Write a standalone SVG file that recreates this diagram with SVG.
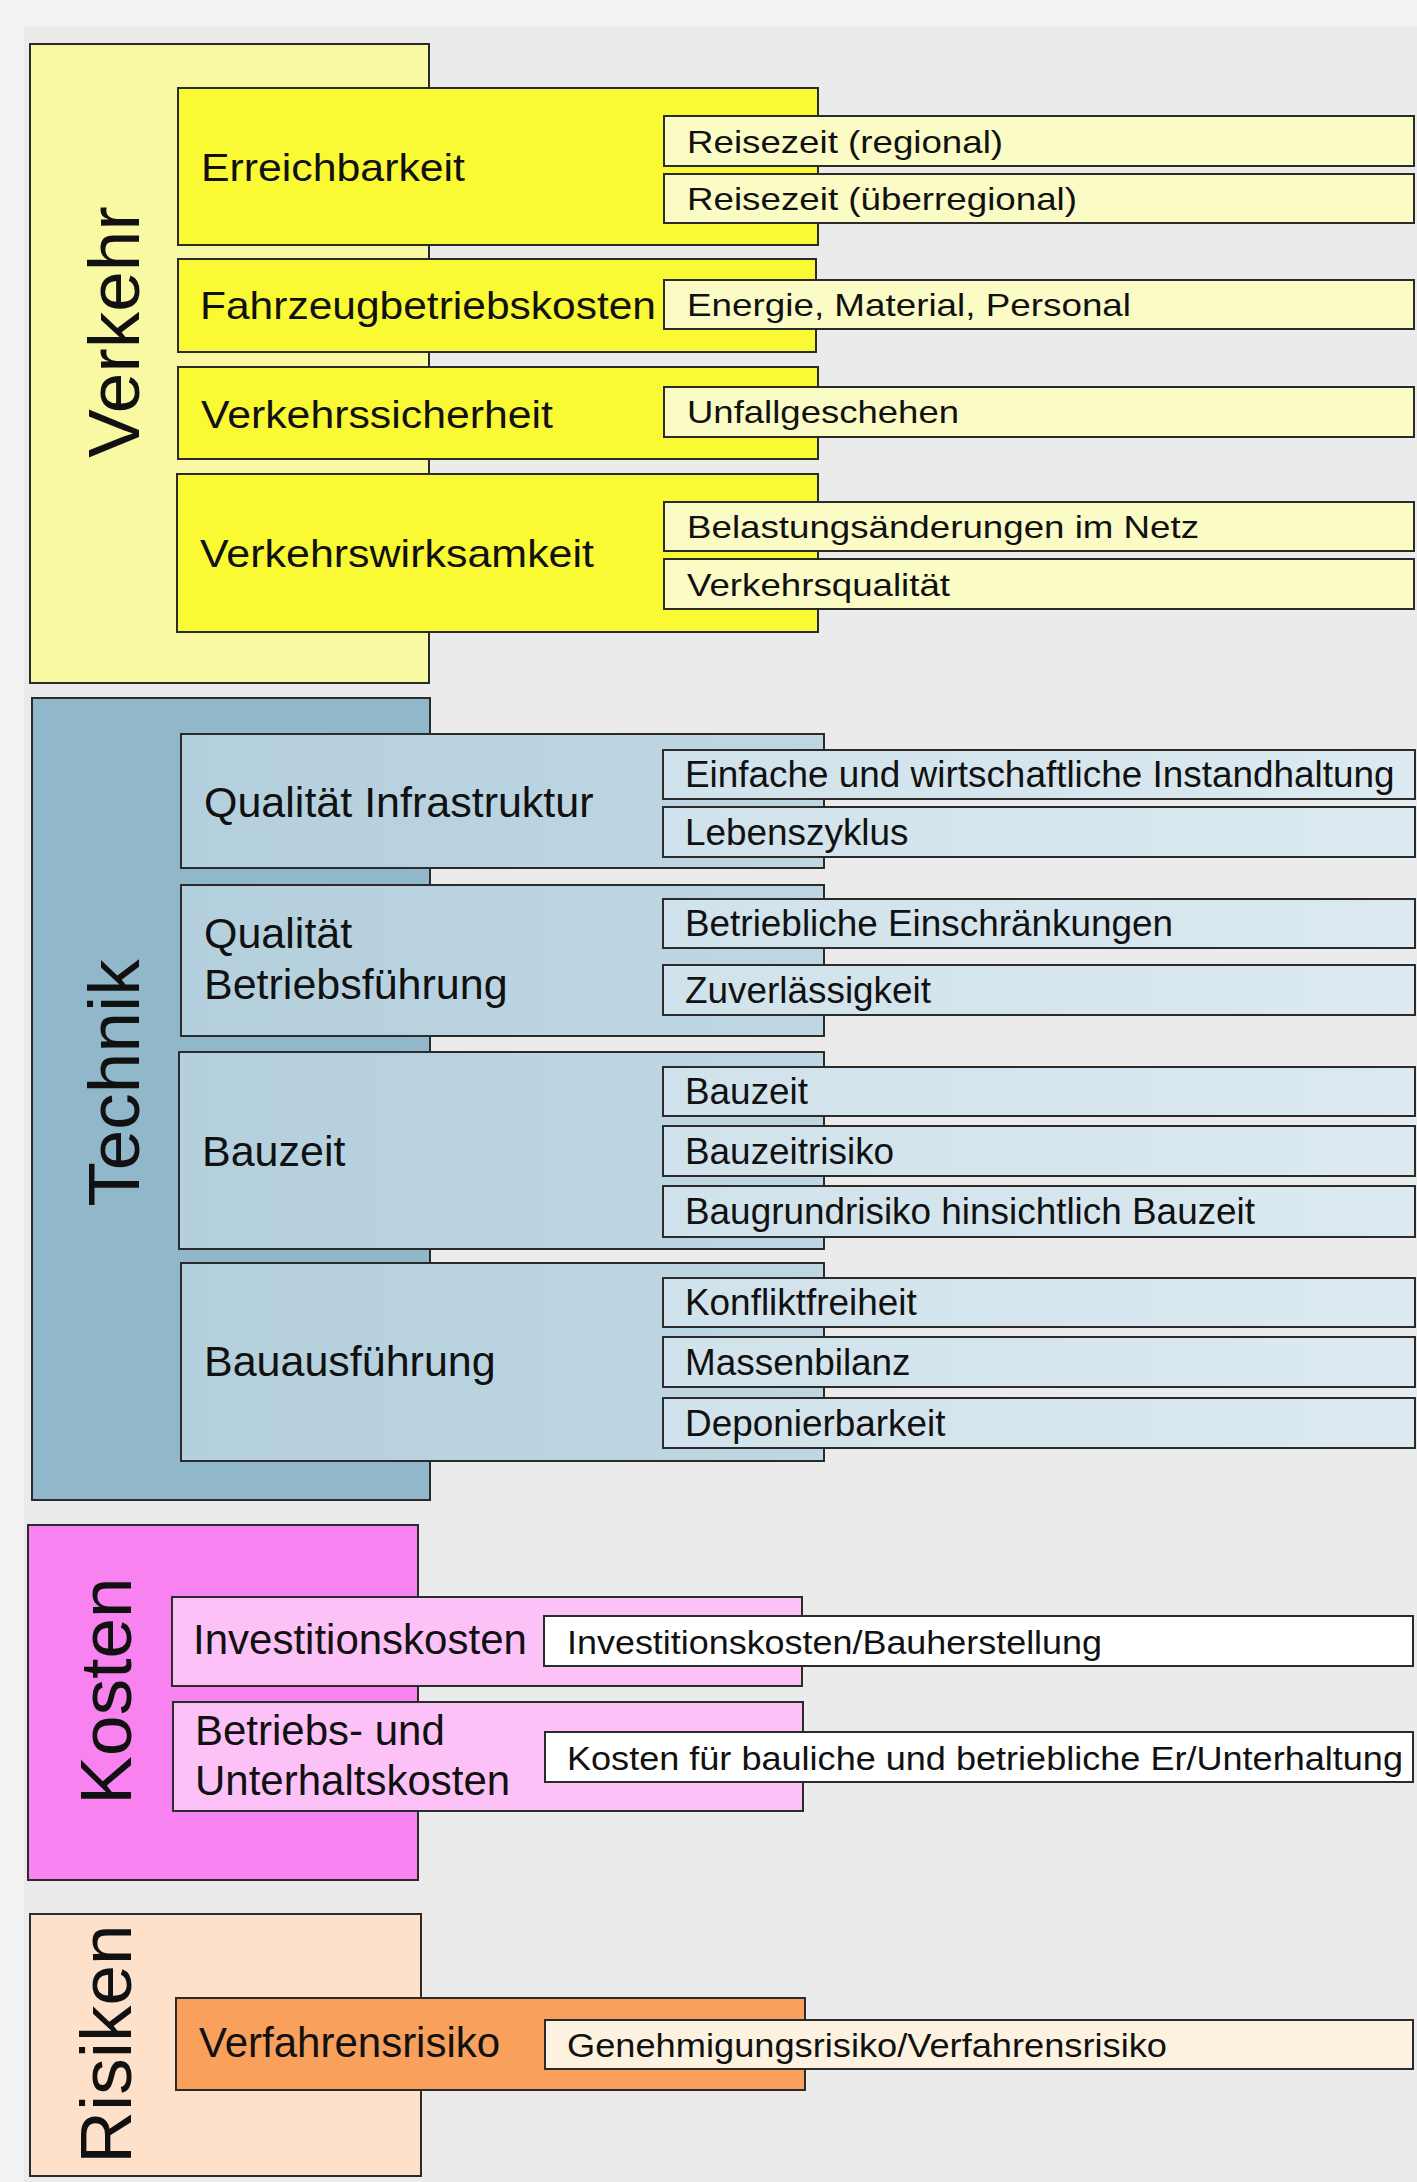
<svg xmlns="http://www.w3.org/2000/svg" width="1417" height="2182" viewBox="0 0 1417 2182">
  <style>
    text { font-family: "Liberation Sans", Arial, sans-serif; fill: #111; }
    .box { stroke: #2b2b2b; stroke-width: 2; }
    .title { font-size: 73px; }
    .l2v { font-size: 39px; }
    .l2 { font-size: 43px; }
    .l2k { font-size: 42px; }
    .subv { font-size: 32px; }
    .sub { font-size: 36.9px; }
    .subk { font-size: 34px; }
    .v0 { fill: #f9f9a3; } .v1 { fill: #f9f934; } .v2 { fill: #fbfbc6; }
    .t0 { fill: #91b7cb; } .t1 { fill: url(#tech-mid); } .t2 { fill: url(#tech-leaf); }
    .k0 { fill: #f883f0; } .k1 { fill: #fcc2f8; } .k2 { fill: #ffffff; }
    .r0 { fill: #fde1cb; } .r1 { fill: #f8a05c; } .r2 { fill: #fdf2df; }
  </style>
  <defs>
    <linearGradient id="tech-mid" x1="0" y1="0" x2="1" y2="0">
      <stop offset="0" stop-color="#b4cfdd"/>
      <stop offset="1" stop-color="#bfd7e3"/>
    </linearGradient>
    <linearGradient id="tech-leaf" x1="0" y1="0" x2="1" y2="0">
      <stop offset="0" stop-color="#d0e2eb"/>
      <stop offset="1" stop-color="#dce9f0"/>
    </linearGradient>
  </defs>

  <!-- page background -->
  <rect x="0" y="0" width="1417" height="2182" fill="#f3f3f3"/>
  <rect x="24" y="26" width="1393" height="2156" fill="#ebebeb"/>

  <!-- ===== Verkehr ===== -->
  <g id="verkehr">
    <rect class="box v0" x="30" y="44" width="399" height="639"/>
    <text class="title" transform="translate(139,332) rotate(-90)" text-anchor="middle">Verkehr</text>
  </g>
  <g id="erreichbarkeit">
    <rect class="box v1" x="178" y="88" width="640" height="157"/>
    <text class="l2v" x="201" y="181" textLength="264" lengthAdjust="spacingAndGlyphs">Erreichbarkeit</text>
  </g>
  <g id="reisezeit-regional">
    <rect class="box v2" x="664" y="116" width="750" height="50"/>
    <text class="subv" x="687" y="153" textLength="316" lengthAdjust="spacingAndGlyphs">Reisezeit (regional)</text>
  </g>
  <g id="reisezeit-ueberregional">
    <rect class="box v2" x="664" y="174" width="750" height="49"/>
    <text class="subv" x="687" y="210" textLength="390" lengthAdjust="spacingAndGlyphs">Reisezeit (überregional)</text>
  </g>
  <g id="fahrzeugbetriebskosten">
    <rect class="box v1" x="178" y="259" width="638" height="93"/>
    <text class="l2v" x="200" y="319" textLength="456" lengthAdjust="spacingAndGlyphs">Fahrzeugbetriebskosten</text>
  </g>
  <g id="energie-material-personal">
    <rect class="box v2" x="664" y="280" width="750" height="49"/>
    <text class="subv" x="687" y="316" textLength="444" lengthAdjust="spacingAndGlyphs">Energie, Material, Personal</text>
  </g>
  <g id="verkehrssicherheit">
    <rect class="box v1" x="178" y="367" width="640" height="92"/>
    <text class="l2v" x="201" y="428" textLength="352" lengthAdjust="spacingAndGlyphs">Verkehrssicherheit</text>
  </g>
  <g id="unfallgeschehen">
    <rect class="box v2" x="664" y="387" width="750" height="50"/>
    <text class="subv" x="687" y="423" textLength="272" lengthAdjust="spacingAndGlyphs">Unfallgeschehen</text>
  </g>
  <g id="verkehrswirksamkeit">
    <rect class="box v1" x="177" y="474" width="641" height="158"/>
    <text class="l2v" x="200" y="567" textLength="394" lengthAdjust="spacingAndGlyphs">Verkehrswirksamkeit</text>
  </g>
  <g id="belastungsaenderungen">
    <rect class="box v2" x="664" y="502" width="750" height="49"/>
    <text class="subv" x="687" y="538" textLength="512" lengthAdjust="spacingAndGlyphs">Belastungsänderungen im Netz</text>
  </g>
  <g id="verkehrsqualitaet">
    <rect class="box v2" x="664" y="559" width="750" height="50"/>
    <text class="subv" x="687" y="596" textLength="263" lengthAdjust="spacingAndGlyphs">Verkehrsqualität</text>
  </g>

  <!-- ===== Technik ===== -->
  <g id="technik">
    <rect class="box t0" x="32" y="698" width="398" height="802"/>
    <text class="title" transform="translate(139,1083) rotate(-90)" text-anchor="middle" font-size="74">Technik</text>
  </g>
  <g id="qualitaet-infrastruktur">
    <rect class="box t1" x="181" y="734" width="643" height="134"/>
    <text class="l2" x="204" y="817">Qualität Infrastruktur</text>
  </g>
  <g id="instandhaltung">
    <rect class="box t2" x="663" y="750" width="752" height="49"/>
    <text class="sub" x="685" y="787">Einfache und wirtschaftliche Instandhaltung</text>
  </g>
  <g id="lebenszyklus">
    <rect class="box t2" x="663" y="807" width="752" height="50"/>
    <text class="sub" x="685" y="845">Lebenszyklus</text>
  </g>
  <g id="qualitaet-betriebsfuehrung">
    <rect class="box t1" x="181" y="885" width="643" height="151"/>
    <text class="l2" x="204" y="948">Qualität</text>
    <text class="l2" x="204" y="999">Betriebsführung</text>
  </g>
  <g id="betriebliche-einschraenkungen">
    <rect class="box t2" x="663" y="899" width="752" height="49"/>
    <text class="sub" x="685" y="936">Betriebliche Einschränkungen</text>
  </g>
  <g id="zuverlaessigkeit">
    <rect class="box t2" x="663" y="965" width="752" height="50"/>
    <text class="sub" x="685" y="1003">Zuverlässigkeit</text>
  </g>
  <g id="bauzeit">
    <rect class="box t1" x="179" y="1052" width="645" height="197"/>
    <text class="l2" x="202" y="1166">Bauzeit</text>
  </g>
  <g id="bauzeit-sub">
    <rect class="box t2" x="663" y="1067" width="752" height="49"/>
    <text class="sub" x="685" y="1104">Bauzeit</text>
  </g>
  <g id="bauzeitrisiko">
    <rect class="box t2" x="663" y="1126" width="752" height="50"/>
    <text class="sub" x="685" y="1164">Bauzeitrisiko</text>
  </g>
  <g id="baugrundrisiko">
    <rect class="box t2" x="663" y="1186" width="752" height="51"/>
    <text class="sub" x="685" y="1224">Baugrundrisiko hinsichtlich Bauzeit</text>
  </g>
  <g id="bauausfuehrung">
    <rect class="box t1" x="181" y="1263" width="643" height="198"/>
    <text class="l2" x="204" y="1376">Bauausführung</text>
  </g>
  <g id="konfliktfreiheit">
    <rect class="box t2" x="663" y="1278" width="752" height="49"/>
    <text class="sub" x="685" y="1315">Konfliktfreiheit</text>
  </g>
  <g id="massenbilanz">
    <rect class="box t2" x="663" y="1337" width="752" height="50"/>
    <text class="sub" x="685" y="1375">Massenbilanz</text>
  </g>
  <g id="deponierbarkeit">
    <rect class="box t2" x="663" y="1398" width="752" height="50"/>
    <text class="sub" x="685" y="1436">Deponierbarkeit</text>
  </g>

  <!-- ===== Kosten ===== -->
  <g id="kosten">
    <rect class="box k0" x="28" y="1525" width="390" height="355"/>
    <text class="title" transform="translate(131,1691) rotate(-90)" text-anchor="middle">Kosten</text>
  </g>
  <g id="investitionskosten">
    <rect class="box k1" x="172" y="1597" width="630" height="89"/>
    <text class="l2k" x="193" y="1654">Investitionskosten</text>
  </g>
  <g id="bauherstellung">
    <rect class="box k2" x="544" y="1616" width="869" height="50"/>
    <text class="subk" x="567" y="1654" textLength="535" lengthAdjust="spacingAndGlyphs">Investitionskosten/Bauherstellung</text>
  </g>
  <g id="betriebs-unterhaltskosten">
    <rect class="box k1" x="173" y="1702" width="630" height="109"/>
    <text class="l2k" x="195" y="1745">Betriebs- und</text>
    <text class="l2k" x="195" y="1795">Unterhaltskosten</text>
  </g>
  <g id="er-unterhaltung">
    <rect class="box k2" x="545" y="1732" width="868" height="50"/>
    <text class="subk" x="567" y="1770" textLength="836" lengthAdjust="spacingAndGlyphs">Kosten für bauliche und betriebliche Er/Unterhaltung</text>
  </g>

  <!-- ===== Risiken ===== -->
  <g id="risiken">
    <rect class="box r0" x="30" y="1914" width="391" height="262"/>
    <text class="title" transform="translate(131,2044) rotate(-90)" text-anchor="middle">Risiken</text>
  </g>
  <g id="verfahrensrisiko">
    <rect class="box r1" x="176" y="1998" width="629" height="92"/>
    <text class="l2k" x="199" y="2057">Verfahrensrisiko</text>
  </g>
  <g id="genehmigungsrisiko">
    <rect class="box r2" x="545" y="2020" width="868" height="49"/>
    <text class="subk" x="567" y="2057" textLength="600" lengthAdjust="spacingAndGlyphs">Genehmigungsrisiko/Verfahrensrisiko</text>
  </g>

  <!-- no connectors: hierarchy shown by nesting -->
  <g id="connectors"/>
</svg>
